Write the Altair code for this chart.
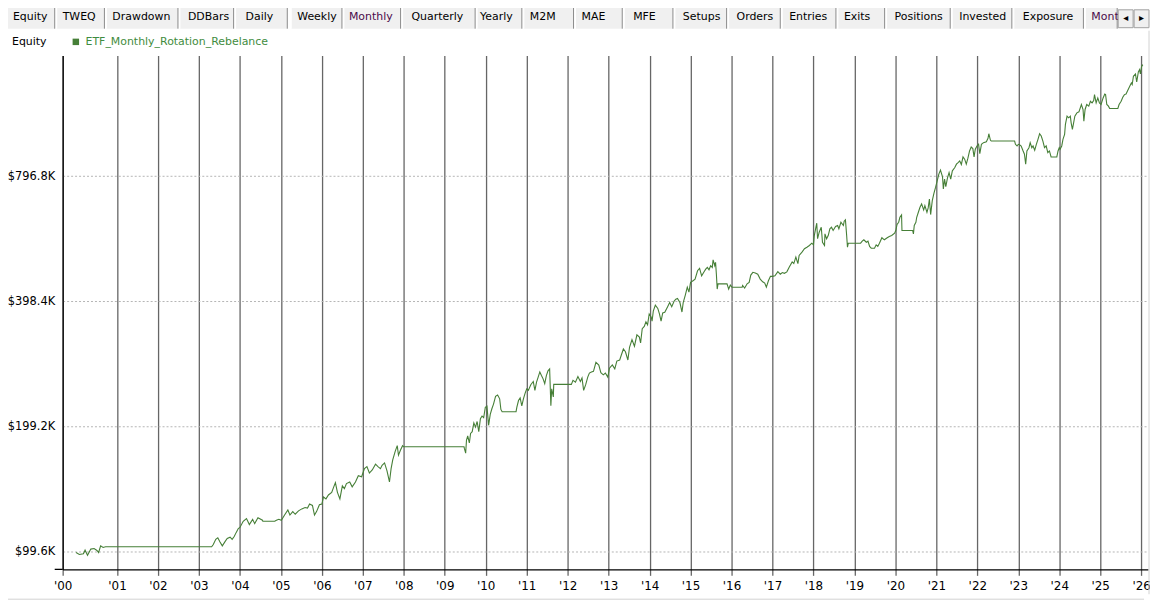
import altair as alt
import pandas as pd

# ---------------- data ----------------
years = [
    2000.00, 2000.08, 2000.18, 2000.22, 2000.28, 2000.36, 2000.44, 2000.51, 2000.55, 2000.60,
    2000.66, 2000.72, 2003.31, 2003.35, 2003.41, 2003.46, 2003.51, 2003.57, 2003.64, 2003.69,
    2003.76, 2003.81, 2003.86, 2003.91, 2003.96,
    2004.00, 2004.08, 2004.16, 2004.23, 2004.31, 2004.36, 2004.44, 2004.55, 2004.56, 2004.85,
    2004.89, 2004.95, 2005.01, 2005.09, 2005.17, 2005.22, 2005.29, 2005.35, 2005.43, 2005.51,
    2005.59, 2005.65, 2005.70, 2005.77, 2005.82, 2005.87, 2005.94, 2006.00, 2006.04, 2006.10,
    2006.16, 2006.24, 2006.29, 2006.33, 2006.38, 2006.44, 2006.50, 2006.55, 2006.60, 2006.68,
    2006.74, 2006.82, 2006.89, 2006.97, 2007.04, 2007.10, 2007.16, 2007.23, 2007.31, 2007.37,
    2007.43, 2007.47, 2007.53, 2007.59, 2007.65, 2007.69, 2007.73, 2007.79, 2007.84, 2007.87,
    2007.92, 2007.97, 2008.00,
    2009.47, 2009.48, 2009.51, 2009.53, 2009.56, 2009.60, 2009.63, 2009.67, 2009.71, 2009.75,
    2009.79, 2009.83, 2009.87, 2009.91, 2009.95, 2009.99, 2010.03, 2010.07, 2010.11, 2010.15,
    2010.19, 2010.24, 2010.29, 2010.34, 2010.37, 2010.40, 2010.74, 2010.76, 2010.80, 2010.84,
    2010.88, 2010.92, 2010.96, 2011.00, 2011.04, 2011.10, 2011.16, 2011.20, 2011.24, 2011.28,
    2011.32, 2011.36, 2011.40, 2011.44, 2011.48, 2011.52, 2011.56, 2011.59, 2011.61, 2011.65,
    2011.66, 2012.09, 2012.13, 2012.19, 2012.25, 2012.31, 2012.35, 2012.39, 2012.44, 2012.49,
    2012.53, 2012.58, 2012.63, 2012.69, 2012.76, 2012.81, 2012.87, 2012.92,
    2012.98, 2013.02, 2013.09, 2013.15, 2013.20, 2013.27, 2013.31, 2013.36, 2013.41, 2013.47,
    2013.51, 2013.57, 2013.63, 2013.69, 2013.75, 2013.78, 2013.82, 2013.87, 2013.91, 2013.95,
    2013.99, 2014.04, 2014.06, 2014.09, 2014.14, 2014.20, 2014.24, 2014.28, 2014.32, 2014.37,
    2014.44, 2014.49, 2014.54, 2014.60, 2014.64, 2014.68, 2014.74, 2014.79, 2014.82, 2014.87,
    2014.92, 2014.96, 2015.00, 2015.06, 2015.11, 2015.17, 2015.22, 2015.27, 2015.33, 2015.37,
    2015.41, 2015.45, 2015.49, 2015.53, 2015.55, 2015.59, 2015.61, 2015.63, 2015.65, 2015.67,
    2015.89, 2015.93, 2015.97, 2016.01, 2016.26, 2016.27, 2016.32, 2016.38, 2016.43, 2016.47,
    2016.52, 2016.58, 2016.64, 2016.70, 2016.76, 2016.81, 2016.85, 2016.90, 2016.95, 2017.00,
    2017.06, 2017.13, 2017.19, 2017.24, 2017.29,
    2017.35, 2017.41, 2017.48, 2017.52, 2017.57, 2017.62, 2017.65, 2017.72, 2017.78, 2017.84,
    2017.90, 2017.96, 2018.00, 2018.02, 2018.06, 2018.08, 2018.10, 2018.14, 2018.19, 2018.22,
    2018.27, 2018.28, 2018.32, 2018.36, 2018.40, 2018.44, 2018.48, 2018.54, 2018.59, 2018.62,
    2018.67, 2018.73, 2018.75, 2018.78, 2018.81, 2018.83, 2018.85, 2019.15, 2019.19, 2019.23,
    2019.29, 2019.33, 2019.37, 2019.41, 2019.49, 2019.53, 2019.57, 2019.61, 2019.67, 2019.73,
    2019.80, 2019.85, 2019.91, 2019.98, 2020.01, 2020.04, 2020.08, 2020.11, 2020.15, 2020.16,
    2020.42, 2020.44, 2020.46, 2020.50, 2020.52, 2020.56, 2020.60, 2020.64, 2020.69, 2020.72,
    2020.77, 2020.80, 2020.83, 2020.86, 2020.90, 2020.94, 2020.98, 2021.02, 2021.06, 2021.10,
    2021.15, 2021.17, 2021.20, 2021.23, 2021.27, 2021.31, 2021.35, 2021.39,
    2021.45, 2021.49, 2021.53, 2021.57, 2021.61, 2021.65, 2021.69, 2021.73, 2021.77, 2021.81,
    2021.85, 2021.89, 2021.92, 2021.95, 2021.99, 2022.03, 2022.06, 2022.10, 2022.15, 2022.22,
    2022.26, 2022.28, 2022.32, 2022.34, 2022.91, 2022.93, 2022.97, 2023.00, 2023.03, 2023.07,
    2023.11, 2023.15, 2023.18, 2023.21, 2023.26, 2023.29, 2023.33, 2023.36, 2023.40, 2023.44,
    2023.48, 2023.52, 2023.56, 2023.60, 2023.64, 2023.68, 2023.72, 2023.76, 2023.80, 2023.94,
    2023.97, 2024.00, 2024.02, 2024.06, 2024.09, 2024.13, 2024.15, 2024.19, 2024.23, 2024.27,
    2024.29, 2024.32, 2024.35, 2024.38, 2024.43, 2024.48, 2024.54, 2024.58, 2024.60, 2024.63,
    2024.67, 2024.72, 2024.76, 2024.80, 2024.84, 2024.86, 2024.90, 2024.94, 2024.98, 2025.02,
    2025.07, 2025.11, 2025.13, 2025.16, 2025.20, 2025.23, 2025.43, 2025.46, 2025.51, 2025.55,
    2025.59, 2025.63, 2025.67, 2025.72, 2025.76, 2025.78, 2025.81, 2025.86, 2025.89, 2025.93,
    2025.96, 2025.98, 2026.01, 2026.04,
]

equity_k = [
    99.2, 98.1, 98.5, 100.5, 97.7, 101.1, 101.4, 100.3, 99.2, 102.9,
    102.0, 102.4, 102.4, 103.7, 106.7, 107.6, 105.3, 102.9, 105.5, 107.2,
    108.0, 106.7, 108.4, 110.9, 113.3,
    114.0, 117.9, 119.7, 115.8, 119.2, 116.4, 120.2, 118.6, 117.9, 117.9,
    118.6, 119.2, 118.6, 122.1, 125.5, 122.1, 124.4, 122.6, 124.9, 126.3,
    127.3, 126.9, 129.7, 128.7, 122.1, 124.4, 129.2, 129.7, 134.9, 133.5,
    136.4, 138.4, 142.7, 146.0, 138.4, 133.5, 143.5, 141.3, 145.3, 146.6,
    142.7, 146.6, 151.8, 150.9, 157.8, 159.6, 154.0, 156.7, 161.8, 159.6,
    157.8, 160.7, 162.9, 155.9, 146.6, 157.8, 165.6, 173.7, 179.2, 170.0,
    174.9, 179.2, 178.1,
    178.1, 176.2, 171.9, 184.6, 189.2, 181.9, 191.8, 193.6, 203.3, 198.6,
    204.9, 193.6, 208.0, 211.2, 209.4, 221.7, 222.9, 200.6, 213.0, 219.8,
    225.6, 235.5, 237.2, 232.3, 219.0, 216.3, 216.3, 221.7, 230.1, 233.4,
    223.4, 232.3, 239.4, 245.4, 243.3, 251.2, 255.6, 243.3, 254.7, 261.9,
    269.5, 264.2, 259.4, 252.5, 264.2, 271.1, 274.1, 223.5, 245.4, 234.8,
    251.6, 251.6, 257.2, 254.7, 262.7, 255.6, 260.6, 243.3, 251.2, 261.9,
    267.9, 269.5, 270.5, 284.2, 280.1, 268.5, 265.3, 267.9,
    261.9, 275.1, 280.1, 274.1, 286.2, 287.9, 296.0, 306.1, 301.4, 287.9,
    309.0, 322.3, 310.8, 330.9, 327.0, 316.4, 342.5, 346.9, 355.7, 350.0,
    371.5, 365.0, 356.9, 377.4, 390.0, 383.1, 371.5, 356.9, 373.6, 375.0,
    386.8, 395.7, 386.8, 399.2, 403.0, 404.6, 395.7, 375.5, 395.7, 412.0,
    430.9, 419.3, 442.5, 446.4, 450.6, 471.9, 478.0, 458.9, 469.4, 476.2,
    480.7, 474.4, 485.3, 480.7, 501.3, 485.3, 494.3, 463.0, 426.4, 438.9,
    438.9, 426.4, 436.0, 430.9, 430.9, 434.9, 428.6, 438.9, 442.5, 460.7,
    467.8, 466.0, 463.0, 450.6, 444.0, 440.8, 430.9, 446.4, 457.4, 457.4,
    458.9, 469.4, 463.0, 467.2, 465.3,
    469.0, 481.7, 495.4, 491.0, 508.8, 491.0, 513.6, 523.0, 533.0, 537.7,
    542.7, 549.7, 544.8, 573.5, 600.6, 614.0, 563.4, 584.2, 600.6, 552.7,
    542.7, 578.9, 563.4, 573.5, 595.2, 600.6, 589.7, 602.9, 606.2, 595.2,
    617.3, 606.2, 620.7, 625.5, 573.5, 537.7, 549.7, 549.7, 555.8, 560.1,
    552.7, 555.8, 539.7, 534.7, 534.7, 544.8, 540.0, 549.7, 566.5, 560.1,
    566.5, 570.6, 573.5, 580.9, 589.7, 609.6, 617.3, 634.5, 642.9, 589.7,
    589.7, 578.9, 606.2, 617.3, 634.5, 652.2, 670.4, 683.1, 660.8, 676.7,
    652.2, 668.1, 702.0, 644.0, 695.5, 724.1, 748.3, 776.5, 805.6, 823.6,
    793.7, 741.8, 783.7, 751.2, 788.0, 812.7, 783.7, 820.4,
    835.4, 851.2, 858.7, 866.7, 849.9, 886.1, 875.0, 851.2, 879.8, 915.9,
    936.2, 928.0, 886.1, 924.5, 941.5, 950.3, 902.3, 950.3, 958.8, 964.1,
    982.1, 1007.5, 971.4, 967.6, 967.6, 950.3, 941.5, 950.3, 948.0, 941.5,
    919.3, 899.3, 851.2, 915.9, 932.6, 958.8, 932.6, 941.5, 919.3, 950.3,
    976.8, 1007.5, 994.7, 967.6, 932.6, 941.5, 907.3, 915.9, 886.1, 886.1,
    915.9, 932.6, 924.5, 941.5, 976.8, 1004.2, 1060.9, 1110.7, 1100.3, 1110.7,
    1070.3, 1031.9, 1070.3, 1110.7, 1131.0, 1137.3, 1184.5, 1152.2, 1080.4, 1152.2,
    1184.5, 1173.4, 1206.1, 1194.9, 1210.8, 1251.2, 1194.9, 1228.3, 1194.9, 1184.5,
    1228.3, 1255.4, 1251.2, 1184.5, 1173.4, 1158.5, 1158.5, 1184.5, 1206.1, 1233.0,
    1251.2, 1255.4, 1279.2, 1310.0, 1334.0, 1322.6, 1384.8, 1402.5, 1341.4, 1418.1,
    1436.9, 1402.5, 1463.2, 1477.0,
]

y_ticks = [99.6, 199.2, 398.4, 796.8]
year_ticks = list(range(2001, 2027))
series_name = "ETF_Monthly_Rotation_Rebelance"

tab_labels = ["Equity", "TWEQ", "Drawdown", "DDBars", "Daily", "Weekly", "Monthly",
              "Quarterly", "Yearly", "M2M", "MAE", "MFE", "Setups", "Orders", "Entries",
              "Exits", "Positions", "Invested", "Exposure", "Mont"]

# ---------------- layout (pixels) ----------------
OX, OY = 63, 54            # plot origin on the page
W, H = 1092, 517
X_DOM = [1999.673, 2026.166]
Y_DOM = [90.36, 1553.2]
FONT = "DejaVu Sans"
GREEN = "#467f37"

tab_left = [5, 57, 107, 181, 237, 293, 346, 405, 480, 527, 579, 628, 679, 733, 787,
            843, 892, 958, 1020, 1092]
tab_right = [55, 105, 179, 235, 289, 344, 403, 478, 525, 577, 626, 677, 731, 785, 841,
             890, 956, 1018, 1090, 1124]
tab_text_x = [13, 63, 113, 189, 247, 299, 351, 414, 483, 533, 585, 637, 687, 741, 794,
              849, 900, 965, 1029, 1098]

tabs = pd.DataFrame({
    "label": tab_labels,
    "x0": [v - OX for v in tab_left],
    "x1": [v - OX for v in tab_right],
    "tx": [v - OX for v in tab_text_x],
    "y0": [(4 if i == 0 else 6) - OY for i in range(len(tab_labels))],
    "y1": [27 - OY] * len(tab_labels),
    "ty": [15.5 - OY] * len(tab_labels),
    "col": ["#4a0a4a" if l.startswith("Mont") else "#000000" for l in tab_labels],
})

df = pd.DataFrame({"yr": years, "equity": equity_k})

# ---------------- main chart ----------------
x_enc = alt.X(
    "yr:Q",
    scale=alt.Scale(domain=X_DOM, nice=False, zero=False),
    axis=alt.Axis(
        values=[X_DOM[0]] + year_ticks,
        labelExpr="datum.value < 2000 ? \"'00\" : \"'\" + substring(toString(datum.value), 2, 4)",
        grid=True, gridColor="#666666", gridWidth=1.3, gridOpacity=1,
        tickColor="#666666", tickSize=6, tickWidth=1.3,
        domainColor="#000000", domainWidth=1.3,
        labelColor="#000000", labelFont=FONT, labelFontSize=12, labelPadding=5,
        labelFlush=False, labelOverlap=False, title=None,
    ),
)
y_enc = alt.Y(
    "equity:Q",
    scale=alt.Scale(type="log", base=2, domain=Y_DOM, nice=False),
    axis=alt.Axis(
        values=y_ticks,
        labelExpr="'$' + datum.value + 'K'",
        grid=True, gridColor="#b4b4b4", gridDash=[2, 2], gridWidth=1,
        ticks=False, domainColor="#000000", domainWidth=1.3,
        labelColor="#000000", labelFont=FONT, labelFontSize=11.5, labelPadding=8,
        title=None,
    ),
)

line = alt.Chart(df).mark_line(color=GREEN, strokeWidth=1.1, clip=True).encode(
    x=x_enc, y=y_enc
)
main = alt.layer(line)

# ---------------- decorations (pixel positioned) ----------------
px = lambda f: alt.X(f, type="quantitative", scale=None, axis=None)
py = lambda f: alt.Y(f, type="quantitative", scale=None, axis=None)

tab_bg = alt.Chart(tabs).mark_rect(color="#f0f0f0").encode(
    x=px("x0"), x2="x1", y=py("y0"), y2="y1")
tab_edge_r = alt.Chart(tabs).mark_rule(color="#8a8a8a", strokeWidth=1).encode(
    x=px("x1"), y=py("y0"), y2="y1")
tab_edge_l = alt.Chart(tabs).mark_rule(color="#ffffff", strokeWidth=1).encode(
    x=px("x0"), y=py("y0"), y2="y1")
tab_text = alt.Chart(tabs).mark_text(
    align="left", baseline="middle", font=FONT, fontSize=11).encode(
    x=px("tx"), y=py("ty"), text="label:N", color=alt.Color("col:N", scale=None))

one = pd.DataFrame({"k": [0]})
arrows = pd.DataFrame({
    "a0": [1125 - OX, 1141 - OX], "a1": [1140 - OX, 1156 - OX],
    "ax": [1132.5 - OX, 1148.5 - OX], "sym": ["\u25c2", "\u25b8"],
})
arrow_bg = alt.Chart(arrows).mark_rect(color="#f0f0f0", stroke="#a0a0a0", strokeWidth=1).encode(
    x=px("a0"), x2="a1", y=alt.value(8 - OY), y2=alt.value(26 - OY))
arrow_txt = alt.Chart(arrows).mark_text(font=FONT, fontSize=10, color="#000000",
                                        baseline="middle").encode(
    x=px("ax"), y=alt.value(16.5 - OY), text="sym:N")

legend_title = alt.Chart(one).mark_text(
    align="left", baseline="middle", font=FONT, fontSize=11, color="#000000",
    text="Equity").encode(x=alt.value(12 - OX), y=alt.value(40.5 - OY))
legend_sq = alt.Chart(one).mark_rect(color=GREEN).encode(
    x=alt.value(73 - OX), x2=alt.value(79.5 - OX), y=alt.value(37 - OY), y2=alt.value(43.5 - OY))
legend_txt = alt.Chart(one).mark_text(
    align="left", baseline="middle", font=FONT, fontSize=11, color="#3f8c40",
    text=series_name).encode(x=alt.value(86 - OX), y=alt.value(40.5 - OY))

axis_stub = alt.Chart(one).mark_rule(color="#000000", strokeWidth=1.3).encode(
    x=alt.value(-8), x2=alt.value(0), y=alt.value(H))
frame_r = alt.Chart(one).mark_rule(color="#d2d2d2", strokeWidth=1).encode(
    x=alt.value(1156 - OX), y=alt.value(29 - OY), y2=alt.value(596 - OY))
frame_b = alt.Chart(one).mark_rule(color="#d2d2d2", strokeWidth=1).encode(
    x=alt.value(-OX), x2=alt.value(1151 - OX), y=alt.value(601 - OY))

deco = alt.layer(tab_bg, tab_edge_l, tab_edge_r, tab_text, arrow_bg, arrow_txt,
                 legend_title, legend_sq, legend_txt, axis_stub, frame_r, frame_b)

chart = (
    alt.layer(main, deco)
    .resolve_scale(x="independent", y="independent")
    .properties(
        width=W, height=H,
        autosize=alt.AutoSizeParams(type="none"),
        padding={"left": OX - 8, "top": OY - 8, "right": 2, "bottom": 31},
        background="#ffffff",
    )
    .configure_view(strokeWidth=0)
)

chart.save("out.html", embed_options={"renderer": "svg", "actions": False})
